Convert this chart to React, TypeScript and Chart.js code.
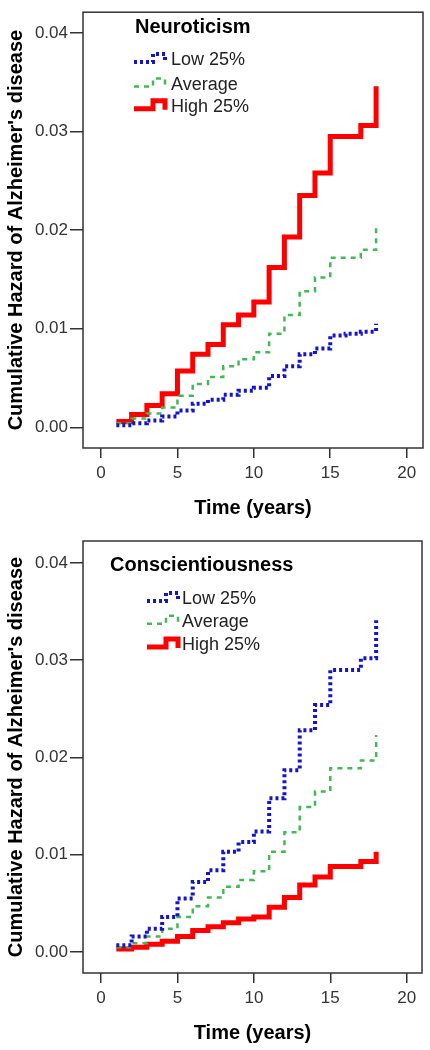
import React, { useEffect, useRef } from 'react';
import { Chart, registerables } from 'chart.js';

Chart.register(...registerables);

// ---- Data ----
const years = [1, 2, 3, 4, 5, 6, 7, 8, 9, 10, 11, 12, 13, 14, 15, 16, 17, 18];
const seriesLabels = ['Low 25%', 'Average', 'High 25%'];

const neuroLow = [0.0002, 0.0004, 0.0007, 0.0011, 0.0017, 0.0024, 0.0028, 0.0033, 0.0037, 0.004, 0.0052, 0.0062, 0.0074, 0.008, 0.0093, 0.0095, 0.0097, 0.0105];
const neuroAvg = [0.0004, 0.0009, 0.0014, 0.002, 0.0032, 0.0044, 0.0051, 0.0062, 0.0069, 0.0076, 0.0095, 0.0114, 0.0138, 0.0152, 0.0172, 0.0172, 0.018, 0.0204];
const neuroHigh = [0.0006, 0.0013, 0.0022, 0.0034, 0.0057, 0.0074, 0.0084, 0.0104, 0.0114, 0.0127, 0.0162, 0.0193, 0.0235, 0.0258, 0.0295, 0.0295, 0.0306, 0.0346];

const consLow = [0.0007, 0.0016, 0.0024, 0.0036, 0.0055, 0.0072, 0.0084, 0.0103, 0.0113, 0.0124, 0.0158, 0.0187, 0.0228, 0.0254, 0.029, 0.029, 0.0302, 0.0341];
const consAvg = [0.0005, 0.0009, 0.0016, 0.0024, 0.0036, 0.0047, 0.0056, 0.0067, 0.0074, 0.0083, 0.0103, 0.0123, 0.0149, 0.0165, 0.0189, 0.0189, 0.0197, 0.0223];
const consHigh = [0.0003, 0.0005, 0.0008, 0.0011, 0.0016, 0.0022, 0.0026, 0.003, 0.0034, 0.0036, 0.0046, 0.0056, 0.0069, 0.0077, 0.0088, 0.0088, 0.0093, 0.0103];

const xTickValues = [0, 5, 10, 15, 20];
const yTickValues = [0, 0.01, 0.02, 0.03, 0.04];

const xTitle = 'Time (years)';
const yTitle = "Cumulative Hazard of Alzheimer's disease";

const FONT = '"Liberation Sans", Arial, Helvetica, sans-serif';

const framePlugin = {
  id: 'frame',
  afterDatasetsDraw(chart: any) {
    const { ctx, chartArea: a } = chart;
    ctx.save();
    ctx.strokeStyle = '#333';
    ctx.lineWidth = 1.5;
    ctx.strokeRect(a.left, a.top, a.right - a.left, a.bottom - a.top);
    ctx.restore();
  },
};

const stepLegendPlugin = {
  id: 'stepLegend',
  afterDatasetsDraw(chart: any, _args: any, opts: any) {
    const ctx = chart.ctx;
    ctx.save();
    ctx.textBaseline = 'alphabetic';
    ctx.textAlign = 'left';
    ctx.font = `bold 20px ${FONT}`;
    ctx.fillStyle = '#000';
    ctx.fillText(opts.title, opts.titleX, opts.titleY);
    chart.data.datasets.forEach((ds: any, i: number) => {
      const base = opts.rowY[i];
      const x0 = opts.iconX;
      ctx.save();
      ctx.strokeStyle = ds.borderColor;
      ctx.lineWidth = ds.borderWidth;
      ctx.setLineDash(ds.borderDash || []);
      ctx.beginPath();
      ctx.moveTo(x0, base - 3);
      ctx.lineTo(x0 + 19, base - 3);
      ctx.lineTo(x0 + 19, base - 11);
      ctx.lineTo(x0 + 31, base - 11);
      ctx.lineTo(x0 + 31, base - 2);
      ctx.stroke();
      ctx.restore();
      ctx.font = `18px ${FONT}`;
      ctx.fillStyle = '#222';
      ctx.fillText(ds.label, opts.textX, base);
    });
    ctx.restore();
  },
};

type PanelProps = {
  low: number[];
  avg: number[];
  high: number[];
  title: string;
  padTop: number;
  padRight: number;
  yMin: number;
  yMax: number;
  xMin: number;
  xMax: number;
  legend: { titleX: number; titleY: number; iconX: number; textX: number; rowY: number[] };
};

function Panel(p: PanelProps) {
  const ref = useRef<HTMLCanvasElement | null>(null);
  useEffect(() => {
    if (!ref.current) return;
    const toPts = (vals: number[]) => years.map((x, i) => ({ x, y: vals[i] }));
    const chart = new Chart(ref.current, {
      type: 'line',
      data: {
        datasets: [
          {
            label: seriesLabels[0],
            data: toPts(p.low),
            borderColor: '#1414c8',
            borderWidth: 4,
            borderDash: [3, 3],
            stepped: 'before',
            pointRadius: 0,
            fill: false,
          },
          {
            label: seriesLabels[1],
            data: toPts(p.avg),
            borderColor: '#44b854',
            borderWidth: 2.5,
            borderDash: [5, 5],
            stepped: 'before',
            pointRadius: 0,
            fill: false,
          },
          {
            label: seriesLabels[2],
            data: toPts(p.high),
            borderColor: '#ff0000',
            borderWidth: 5,
            stepped: 'before',
            pointRadius: 0,
            fill: false,
          },
        ],
      },
      options: {
        responsive: false,
        animation: false,
        layout: { padding: { top: p.padTop, right: p.padRight, left: 0, bottom: 0 } },
        plugins: {
          legend: { display: false },
          tooltip: { enabled: false },
          stepLegend: p.legend,
        } as any,
        scales: {
          x: {
            type: 'linear',
            min: p.xMin,
            max: p.xMax,
            afterBuildTicks: (scale: any) => {
              scale.ticks = xTickValues.map((v) => ({ value: v }));
            },
            afterFit: (scale: any) => {
              scale.height = 77;
            },
            grid: { drawOnChartArea: false, drawTicks: true, tickLength: 10, color: '#333', lineWidth: 1.5 },
            border: { display: false },
            ticks: {
              color: '#333',
              padding: 5,
              font: { size: 17, family: FONT },
              callback: (v: any) => String(v),
            },
            title: {
              display: true,
              text: xTitle,
              color: '#000',
              font: { size: 20, weight: 'bold', family: FONT },
              padding: { top: 0, bottom: 4.5 },
            },
          },
          y: {
            type: 'linear',
            min: p.yMin,
            max: p.yMax,
            afterBuildTicks: (scale: any) => {
              scale.ticks = yTickValues.map((v) => ({ value: v }));
            },
            afterFit: (scale: any) => {
              scale.width = 83;
            },
            grid: { drawOnChartArea: false, drawTicks: true, tickLength: 13, color: '#333', lineWidth: 1.5 },
            border: { display: false },
            ticks: {
              color: '#333',
              padding: 2,
              font: { size: 17, family: FONT },
              callback: (v: any) => Number(v).toFixed(2),
            },
            title: {
              display: true,
              text: yTitle,
              color: '#000',
              font: { size: 20, weight: 'bold', family: FONT },
              padding: { top: 4.5, bottom: 0 },
            },
          },
        },
      } as any,
      plugins: [framePlugin, stepLegendPlugin],
    });
    return () => chart.destroy();
  }, []);
  return <canvas ref={ref} width={430} height={525} style={{ display: 'block', width: 430, height: 525 }} />;
}

export default function App() {
  return (
    <div style={{ position: 'absolute', left: 0, top: 0, width: 430, height: 1050, background: '#fff' }}>
      <Panel
        low={neuroLow}
        avg={neuroAvg}
        high={neuroHigh}
        title="Neuroticism"
        padTop={7}
        padRight={7}
        yMin={-0.0021}
        yMax={0.0421}
        xMin={-1.18}
        xMax={21.07}
        legend={{ title: 'Neuroticism', titleX: 135, titleY: 32.7, iconX: 134, textX: 171, rowY: [65, 89.5, 111.7] } as any}
      />
      <Panel
        low={consLow}
        avg={consAvg}
        high={consHigh}
        title="Conscientiousness"
        padTop={16}
        padRight={8}
        yMin={-0.00216}
        yMax={0.04226}
        xMin={-1.18}
        xMax={21.0}
        legend={{ title: 'Conscientiousness', titleX: 110, titleY: 45.7, iconX: 147, textX: 182, rowY: [79, 101.7, 125] } as any}
      />
    </div>
  );
}
